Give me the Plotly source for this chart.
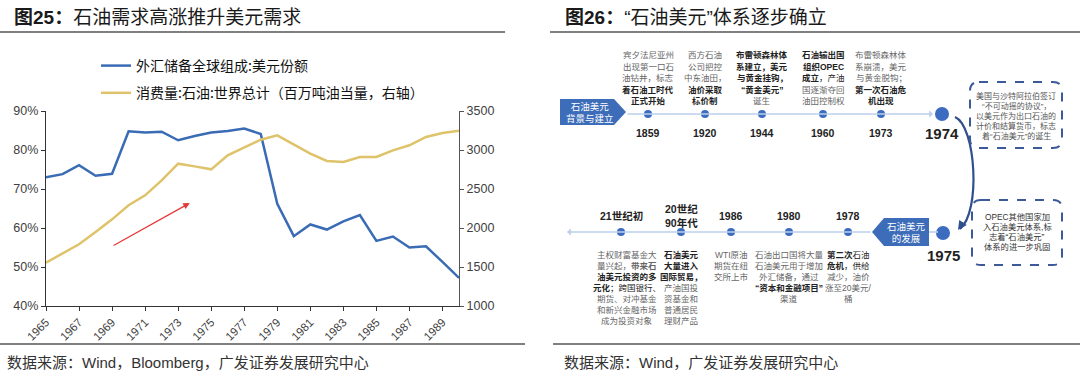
import plotly.graph_objects as go

# ---------------- data: left chart ----------------
years = list(range(1965, 1991))
usd_share = [73.0, 73.8, 76.1, 73.4, 73.9, 84.8, 84.5, 84.7, 82.5, 83.6, 84.5, 84.9, 85.5,
             84.1, 66.2, 57.9, 60.9, 59.6, 61.7, 63.3, 56.7, 57.8, 55.0, 55.3, 51.3, 47.2]
oil_consumption = [1556, 1671, 1791, 1949, 2111, 2291, 2419, 2611, 2825, 2790, 2752, 2932, 3030,
                   3132, 3188, 3073, 2953, 2859, 2846, 2910, 2910, 2996, 3060, 3167, 3218, 3248]
x_tick_years = list(range(1965, 1990, 2))
series_names = ["外汇储备全球组成:美元份额", "消费量:石油:世界总计（百万吨油当量，右轴）"]

# ---------------- data: right timeline ----------------
top_years = ["1859", "1920", "1944", "1960", "1973"]
top_texts = [
    ["宾夕法尼亚州", "出现第一口石", "油钻井，标志", "<b>着石油工时代</b>", "<b>正式开始</b>"],
    ["西方石油", "公司把控", "中东油田，", "<b>油价采取</b>", "<b>标价制</b>"],
    ["<b>布雷顿森林体</b>", "<b>系建立，美元</b>", "<b>与黄金挂钩，</b>", "<b>“黄金美元”</b>", "诞生"],
    ["<b>石油输出国</b>", "<b>组织OPEC</b>", "<b>成立</b>，产油", "国逐渐夺回", "油田控制权"],
    ["布雷顿森林体", "系崩溃，美元", "与黄金脱钩；", "<b>第一次石油危</b>", "<b>机出现</b>"],
]
bottom_labels = ["21世纪初", "20世纪<br>90年代", "1986", "1980", "1978"]
bottom_texts = [
    ["主权财富基金大", "量兴起，<b>带来石</b>", "<b>油美元投资的多</b>", "<b>元化</b>；跨国银行、",
     "期货、对冲基金", "和新兴金融市场", "成为投资对象"],
    ["<b>石油美元</b>", "<b>大量进入</b>", "<b>国际贸易，</b>", "产油国投", "资基金和", "普通居民", "理财产品"],
    ["WTI原油", "期货在纽", "交所上市"],
    ["石油出口国将大量", "石油美元用于增加", "外汇储备，通过", "<b>“资本和金融项目”</b>", "渠道"],
    ["<b>第二次</b>石油", "<b>危机</b>，供给", "减少，油价", "涨至20美元/", "桶"],
]
key_years = ["1974", "1975"]
box_texts = [
    ["美国与沙特阿拉伯签订", "“不可动摇的协议”，", "以美元作为出口石油的", "计价和结算货币，标志", "着“石油美元”的诞生"],
    ["OPEC其他国家加", "入石油美元体系,标", "志着“石油美元”", "体系的进一步巩固"],
]
stage_labels = ["石油美元<br>背景与建立", "石油美元<br>的发展"]
titles = ["<b>图25：</b>石油需求高涨推升美元需求", "<b>图26：</b>“石油美元”体系逐步确立"]
sources = ["数据来源：Wind，Bloomberg，广发证券发展研究中心", "数据来源：Wind，广发证券发展研究中心"]

# ---------------- layout positions (pixels) ----------------
top_x = [648, 705, 762, 823, 881]
top_y = 114
bot_x = [621, 681, 731, 789, 848]
bot_y = 232
big_pos = [(942, 114), (943, 233)]

FONT_CN = "Noto Sans CJK SC"
FONT_MIX = "Liberation Sans, Noto Sans CJK SC"
BLUE = "#3a6bb5"
YELLOW = "#dfc36a"
DOT = "#3b6cbf"
TL = "#bcd0ea"

fig = go.Figure()
fig.add_trace(go.Scatter(x=years, y=usd_share, name=series_names[0], mode="lines",
                         line=dict(color=BLUE, width=2.5), xaxis="x", yaxis="y", legendgroup="a"))
fig.add_trace(go.Scatter(x=years, y=oil_consumption, name=series_names[1], mode="lines",
                         line=dict(color=YELLOW, width=2.5), xaxis="x", yaxis="y2", legendgroup="b"))

# timeline dots
fig.add_trace(go.Scatter(x=top_x + bot_x, y=[top_y] * 5 + [bot_y] * 5, mode="markers",
                         marker=dict(size=8, color=DOT), xaxis="x3", yaxis="y3",
                         showlegend=False, hoverinfo="skip"))
fig.add_trace(go.Scatter(x=[p[0] for p in big_pos], y=[p[1] for p in big_pos], mode="markers",
                         marker=dict(size=14, color=DOT), xaxis="x3", yaxis="y3",
                         showlegend=False, hoverinfo="skip"))

W, H = 1080, 380
x0, x1 = 46, 459
y_top, y_bot = 111, 306

ann = []
shapes = []


def text(x, y, t, size, color="#222", family=FONT_MIX, xanchor="center", yanchor="middle"):
    ann.append(dict(x=x, y=y, xref="x3", yref="y3", text=t, showarrow=False,
                    font=dict(size=size, color=color, family=family),
                    xanchor=xanchor, yanchor=yanchor, align="center"))


# titles and rules
text(12, 17, titles[0], 19, "#1a1a1a", xanchor="left")
text(563, 17, titles[1], 19, "#1a1a1a", xanchor="left")
text(5, 362, sources[0], 15, "#333", xanchor="left")
text(562, 362, sources[1], 15, "#333", xanchor="left")
for xa, xb, yy in [(0, 505, 32), (550, 1080, 32), (0, 525, 344), (553, 1080, 344)]:
    shapes.append(dict(type="line", xref="x3", yref="y3", x0=xa, x1=xb, y0=yy, y1=yy,
                       line=dict(color="#555", width=1.6)))

# red arrow on left chart
ann.append(dict(x=1973.7, y=66.4, ax=1969.0, ay=55.3, xref="x", yref="y", axref="x", ayref="y",
                text="", showarrow=True, arrowhead=2, arrowsize=1, arrowwidth=1.3, arrowcolor="#e53935"))

# timeline lines
ann.append(dict(x=933, y=top_y, ax=626, ay=top_y, xref="x3", yref="y3", axref="x3", ayref="y3",
                text="", showarrow=True, arrowhead=1, arrowsize=0.8, arrowwidth=1.6, arrowcolor=TL))
ann.append(dict(x=567, y=bot_y, ax=872, ay=bot_y, xref="x3", yref="y3", axref="x3", ayref="y3",
                text="", showarrow=True, arrowhead=1, arrowsize=0.8, arrowwidth=1.6, arrowcolor=TL))
shapes.append(dict(type="line", xref="x3", yref="y3", x0=928, x1=938, y0=bot_y, y1=bot_y,
                   line=dict(color=TL, width=1.6)))

# stage pentagons
shapes.append(dict(type="path", xref="x3", yref="y3", path="M 560 99 L 614 99 L 626 112 L 614 125 L 560 125 Z",
                   fillcolor="#3d6cb9", line=dict(width=0)))
shapes.append(dict(type="path", xref="x3", yref="y3", path="M 872 232 L 884 218 L 929 218 L 929 246 L 884 246 Z",
                   fillcolor="#3d6cb9", line=dict(width=0)))
text(590, 112, stage_labels[0], 9.5, "white", FONT_CN)
text(906, 232, stage_labels[1], 9.5, "white", FONT_CN)

# curved connector 1974 -> 1975
shapes.append(dict(type="path", xref="x3", yref="y3", path="M 955 117 C 976 126 981 212 960 229",
                   line=dict(color="#2f4f8f", width=2.2)))
ann.append(dict(x=958, y=230, ax=964, ay=221, xref="x3", yref="y3", axref="x3", ayref="y3",
                text="", showarrow=True, arrowhead=2, arrowsize=0.9, arrowwidth=2, arrowcolor="#2f4f8f"))


def rounded(xa, ya, xb, yb, r):
    return (f"M {xa + r} {ya} L {xb - r} {ya} Q {xb} {ya} {xb} {ya + r} L {xb} {yb - r} "
            f"Q {xb} {yb} {xb - r} {yb} L {xa + r} {yb} Q {xa} {yb} {xa} {yb - r} "
            f"L {xa} {ya + r} Q {xa} {ya} {xa + r} {ya} Z")


for (xa, ya, xb, yb) in [(970, 82, 1062, 148), (972, 200, 1062, 265)]:
    shapes.append(dict(type="path", xref="x3", yref="y3", path=rounded(xa, ya, xb, yb, 9),
                       line=dict(color="#3c5a99", width=2, dash="dash")))

for i, ln in enumerate(box_texts[0]):
    text(1016, 96 + i * 10, ln, 8, "#555", FONT_MIX)
for i, ln in enumerate(box_texts[1]):
    text(1017, 217 + i * 10, ln, 8.3, "#333", FONT_MIX)

# top events
for xx, yr, lines in zip(top_x, top_years, top_texts):
    text(xx, 133, f"<b>{yr}</b>", 10.5, "#222")
    for i, ln in enumerate(lines):
        col = "#222" if ln.startswith("<b>") else "#666"
        text(xx, 55 + i * 11.5, ln, 8.5, col)
text(big_pos[0][0], 133, f"<b>{key_years[0]}</b>", 15, "#222")
text(big_pos[1][0], 255, f"<b>{key_years[1]}</b>", 15, "#222")

# bottom events
for xx, lab, lines in zip(bot_x, bottom_labels, bottom_texts):
    text(xx, 216, f"<b>{lab}</b>", 10.5, "#222")
    for i, ln in enumerate(lines):
        col = "#222" if ln.startswith("<b>") else "#666"
        text(xx + (6 if lab == "21世纪初" else 0), 255 + i * 11, ln, 8.5, col)

tickfont = dict(size=12.5, color="#404040", family="Liberation Sans")
fig.update_layout(
    width=W, height=H, margin=dict(l=0, r=0, t=0, b=0, autoexpand=False),
    paper_bgcolor="white", plot_bgcolor="rgba(0,0,0,0)",
    showlegend=True,
    legend=dict(x=96 / W, y=1 - 50 / H, xanchor="left", yanchor="top",
                font=dict(size=14, color="#111", family=FONT_CN),
                bgcolor="rgba(0,0,0,0)", tracegroupgap=6, traceorder="grouped", itemwidth=30),
    xaxis=dict(domain=[x0 / W, x1 / W], range=[1965, 1990], tickvals=x_tick_years,
               tickangle=-45, ticks="outside", ticklen=4, tickcolor="#333", automargin=False,
               showline=True, linecolor="#333", linewidth=1.2, showgrid=False, zeroline=False,
               tickfont=dict(size=11.5, color="#404040", family="Liberation Sans"), anchor="y"),
    yaxis=dict(domain=[1 - y_bot / H, 1 - y_top / H], range=[40, 90], dtick=10, ticksuffix="%",
               ticks="outside", ticklen=4, tickcolor="#333", showline=True, linecolor="#333",
               automargin=False,
               linewidth=1.2, showgrid=False, zeroline=False, tickfont=tickfont, anchor="x"),
    yaxis2=dict(overlaying="y", side="right", range=[1000, 3500], dtick=500, automargin=False,
                ticks="outside", ticklen=4, tickcolor="#555", showline=True, linecolor="#555",
                linewidth=1.2, showgrid=False, zeroline=False, tickfont=tickfont, anchor="x"),
    xaxis3=dict(domain=[0, 1], range=[0, W], visible=False, fixedrange=True, anchor="y3",
                automargin=False),
    yaxis3=dict(domain=[0, 1], range=[H, 0], visible=False, fixedrange=True, anchor="x3",
                automargin=False),
    annotations=ann, shapes=shapes,
)

fig.write_html("out.html", config={"displayModeBar": False},
               post_script="document.body.style.margin='0';document.body.style.overflow='hidden';")
